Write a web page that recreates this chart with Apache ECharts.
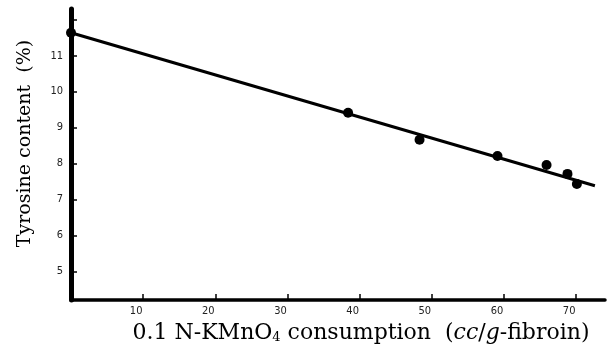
<!DOCTYPE html>
<html><head><meta charset="utf-8">
<script src="https://cdn.jsdelivr.net/npm/echarts@6/dist/echarts.min.js"></script>
<style>html,body{margin:0;padding:0;background:#fff}#c{width:610px;height:349px}</style>
</head><body><div id="c"></div>
<script>
// Data
const pointsX = [0, 38.4, 48.3, 59.1, 65.9, 68.8, 70.1];
const pointsY = [11.64, 9.41, 8.66, 8.21, 7.96, 7.71, 7.43];
const fitX = [0, 72.6];
const fitY = [11.64, 7.38];
const xTicks = [10, 20, 30, 40, 50, 60, 70];
const yTicks = [5, 6, 7, 8, 9, 10, 11, 12];
const yLabels = [5, 6, 7, 8, 9, 10, 11];

const chart = echarts.init(document.getElementById('c'));
const serif = 'DejaVu Serif';
const tickFont = 'Liberation Sans Narrow, DejaVu Sans Condensed, sans-serif';
chart.setOption({
  animation: false,
  backgroundColor: '#fff',
  grid: {left: 71, right: 5, top: 9, bottom: 45},
  xAxis: {
    type: 'value', min: 0, max: 74,
    axisLine: {show: true, lineStyle: {color: '#000', width: 3.5}},
    axisTick: {show: true, inside: true, length: 6, lineStyle: {color: '#000', width: 1.5}, customValues: xTicks},
    axisLabel: {color: '#222', fontFamily: tickFont, fontSize: 11, margin: 6, padding: [0, 14, 0, 0], customValues: xTicks},
    splitLine: {show: false},
    name: '{n|0.1 N-KMnO}{s|4}{n| consumption  (}{i|cc}{n|/}{i|g}{n|-fibroin)}',
    nameLocation: 'middle', nameGap: 22,
    nameTextStyle: {
      padding: [0, 0, 0, 46],
      rich: {
        n: {fontFamily: serif, fontSize: 22, color: '#000'},
        i: {fontFamily: serif, fontSize: 22, fontStyle: 'italic', color: '#000'},
        s: {fontFamily: serif, fontSize: 13, color: '#000', verticalAlign: 'bottom', padding: [9, 0, 0, 0]}
      }
    }
  },
  yAxis: {
    type: 'value', min: 4.2, max: 12.3,
    axisLine: {show: true, lineStyle: {color: '#000', width: 5}},
    axisTick: {show: true, inside: true, length: 6, lineStyle: {color: '#000', width: 1.5}, customValues: yTicks},
    axisLabel: {color: '#222', fontFamily: tickFont, fontSize: 11, margin: 8, customValues: yLabels},
    splitLine: {show: false},
    name: 'Tyrosine content  (%)',
    nameLocation: 'middle', nameGap: 36, nameRotate: 90,
    nameTextStyle: {fontFamily: serif, fontSize: 19, color: '#000', padding: [0, 0, 0, 22]}
  },
  series: [
    {type: 'line', data: fitX.map((x, i) => [x, fitY[i]]), showSymbol: false,
     lineStyle: {color: '#000', width: 3}, z: 2},
    {type: 'scatter', data: pointsX.map((x, i) => [x, pointsY[i]]), symbol: 'circle', symbolSize: 10,
     itemStyle: {color: '#000', opacity: 1}, z: 3}
  ]
});
</script></body></html>
